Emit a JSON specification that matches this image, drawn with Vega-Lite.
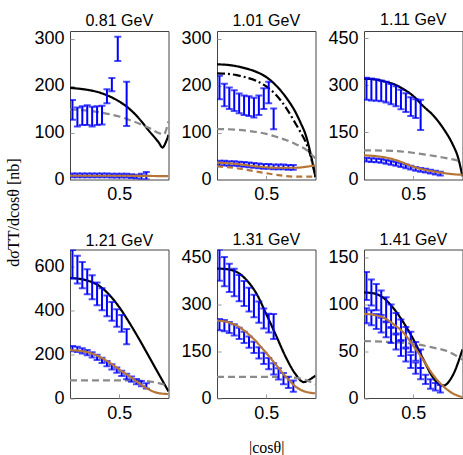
{
"$schema": "https://vega.github.io/schema/vega-lite/v6.json",
"padding": {"left": 5, "top": 11, "right": 5, "bottom": 2},
"columns": 3,
"bounds": "flush",
"spacing": {"row": 69.5, "column": 48},
"resolve": {"scale": {"x": "independent", "y": "independent"}},
"config": {
  "view": {"stroke": "#444", "strokeWidth": 1},
  "axis": {"domain": false, "grid": false, "tickColor": "#999", "tickSize": -4, "labelPadding": 10, "labelFont": "Liberation Sans", "labelFontSize": 18, "labelColor": "#000", "titleFont": "Liberation Serif", "titleFontSize": 16, "titleFontWeight": "normal", "titleColor": "#000"},
  "title": {"font": "Liberation Sans", "fontSize": 16, "fontWeight": "normal", "color": "#000", "offset": 1},
  "tick": {"orient": "horizontal", "color": "#0000ff", "size": 7, "thickness": 2},
  "rule": {"color": "#0000ff", "strokeWidth": 2},
  "line": {"interpolate": "monotone"}
},
"data": {"values": [
{"p":1,"s":"blk","x":0,"y":195},{"p":1,"s":"blk","x":0.1,"y":193},{"p":1,"s":"blk","x":0.2,"y":190},{"p":1,"s":"blk","x":0.3,"y":185},{"p":1,"s":"blk","x":0.4,"y":177},{"p":1,"s":"blk","x":0.5,"y":166},{"p":1,"s":"blk","x":0.6,"y":151},{"p":1,"s":"blk","x":0.7,"y":130},{"p":1,"s":"blk","x":0.8,"y":104},{"p":1,"s":"blk","x":0.9,"y":79},{"p":1,"s":"blk","x":0.94,"y":68},{"p":1,"s":"blk","x":0.97,"y":78},{"p":1,"s":"blk","x":1,"y":95},
{"p":1,"s":"gry","x":0,"y":149},{"p":1,"s":"gry","x":0.1,"y":148},{"p":1,"s":"gry","x":0.2,"y":146},{"p":1,"s":"gry","x":0.3,"y":143},{"p":1,"s":"gry","x":0.4,"y":139},{"p":1,"s":"gry","x":0.5,"y":134},{"p":1,"s":"gry","x":0.6,"y":127},{"p":1,"s":"gry","x":0.7,"y":119},{"p":1,"s":"gry","x":0.8,"y":110},{"p":1,"s":"gry","x":0.9,"y":99},{"p":1,"s":"gry","x":0.95,"y":96},{"p":1,"s":"gry","x":1,"y":124},
{"p":1,"s":"brn","x":0,"y":8},{"p":1,"s":"brn","x":0.5,"y":8},{"p":1,"s":"brn","x":1,"y":7},
{"p":1,"s":"c","x":0.025,"y":148,"lo":127,"hi":169},{"p":1,"s":"c","x":0.075,"y":133,"lo":113,"hi":153},{"p":1,"s":"c","x":0.125,"y":136,"lo":116,"hi":156},{"p":1,"s":"c","x":0.175,"y":137,"lo":116,"hi":158},{"p":1,"s":"c","x":0.225,"y":134,"lo":113,"hi":155},{"p":1,"s":"c","x":0.275,"y":136,"lo":116,"hi":156},{"p":1,"s":"c","x":0.325,"y":137,"lo":117,"hi":157},{"p":1,"s":"c","x":0.375,"y":177,"lo":162,"hi":192},{"p":1,"s":"c","x":0.425,"y":202,"lo":188,"hi":216},{"p":1,"s":"c","x":0.485,"y":278,"lo":252,"hi":304},{"p":1,"s":"c","x":0.575,"y":161,"lo":114,"hi":208},
{"p":1,"s":"n","x":0.025,"y":9,"lo":5,"hi":13},{"p":1,"s":"n","x":0.075,"y":9,"lo":5,"hi":13},{"p":1,"s":"n","x":0.125,"y":9,"lo":5,"hi":13},{"p":1,"s":"n","x":0.175,"y":9,"lo":5,"hi":13},{"p":1,"s":"n","x":0.225,"y":9,"lo":5,"hi":13},{"p":1,"s":"n","x":0.275,"y":9,"lo":5,"hi":13},{"p":1,"s":"n","x":0.325,"y":9,"lo":5,"hi":13},{"p":1,"s":"n","x":0.375,"y":9,"lo":5,"hi":13},{"p":1,"s":"n","x":0.425,"y":8,"lo":4,"hi":12},{"p":1,"s":"n","x":0.475,"y":8,"lo":4,"hi":12},{"p":1,"s":"n","x":0.525,"y":8,"lo":4,"hi":12},{"p":1,"s":"n","x":0.575,"y":8,"lo":4,"hi":12},{"p":1,"s":"n","x":0.625,"y":7,"lo":3,"hi":11},{"p":1,"s":"n","x":0.675,"y":6,"lo":2,"hi":10},{"p":1,"s":"n","x":0.725,"y":6,"lo":0,"hi":12},{"p":1,"s":"n","x":0.775,"y":8,"lo":0,"hi":16},
{"p":2,"s":"blk","x":0,"y":245},{"p":2,"s":"blk","x":0.1,"y":244},{"p":2,"s":"blk","x":0.2,"y":241},{"p":2,"s":"blk","x":0.3,"y":236},{"p":2,"s":"blk","x":0.4,"y":229},{"p":2,"s":"blk","x":0.5,"y":218},{"p":2,"s":"blk","x":0.6,"y":200},{"p":2,"s":"blk","x":0.7,"y":175},{"p":2,"s":"blk","x":0.8,"y":142},{"p":2,"s":"blk","x":0.85,"y":120},{"p":2,"s":"blk","x":0.9,"y":95},{"p":2,"s":"blk","x":0.95,"y":55},{"p":2,"s":"blk","x":0.98,"y":25},{"p":2,"s":"blk","x":1,"y":5},
{"p":2,"s":"blkdd","x":0,"y":226},{"p":2,"s":"blkdd","x":0.1,"y":225},{"p":2,"s":"blkdd","x":0.2,"y":222},{"p":2,"s":"blkdd","x":0.3,"y":217},{"p":2,"s":"blkdd","x":0.4,"y":210},{"p":2,"s":"blkdd","x":0.5,"y":198},{"p":2,"s":"blkdd","x":0.6,"y":180},{"p":2,"s":"blkdd","x":0.7,"y":153},{"p":2,"s":"blkdd","x":0.8,"y":118},{"p":2,"s":"blkdd","x":0.85,"y":100},{"p":2,"s":"blkdd","x":0.9,"y":80},{"p":2,"s":"blkdd","x":0.95,"y":50},{"p":2,"s":"blkdd","x":0.98,"y":25},{"p":2,"s":"blkdd","x":1,"y":5},
{"p":2,"s":"gry","x":0,"y":107},{"p":2,"s":"gry","x":0.1,"y":107},{"p":2,"s":"gry","x":0.2,"y":106},{"p":2,"s":"gry","x":0.3,"y":104},{"p":2,"s":"gry","x":0.4,"y":101},{"p":2,"s":"gry","x":0.5,"y":97},{"p":2,"s":"gry","x":0.6,"y":91},{"p":2,"s":"gry","x":0.7,"y":84},{"p":2,"s":"gry","x":0.8,"y":75},{"p":2,"s":"gry","x":0.9,"y":64},{"p":2,"s":"gry","x":0.95,"y":55},{"p":2,"s":"gry","x":1,"y":45},
{"p":2,"s":"brn","x":0,"y":36},{"p":2,"s":"brn","x":0.2,"y":33},{"p":2,"s":"brn","x":0.4,"y":28},{"p":2,"s":"brn","x":0.6,"y":25},{"p":2,"s":"brn","x":0.8,"y":25},{"p":2,"s":"brn","x":0.9,"y":27},{"p":2,"s":"brn","x":1,"y":30},
{"p":2,"s":"brndd","x":0,"y":28},{"p":2,"s":"brndd","x":0.2,"y":24},{"p":2,"s":"brndd","x":0.4,"y":17},{"p":2,"s":"brndd","x":0.6,"y":10},{"p":2,"s":"brndd","x":0.8,"y":6},{"p":2,"s":"brndd","x":1,"y":6},
{"p":2,"s":"c","x":0.025,"y":196,"lo":171,"hi":221},{"p":2,"s":"c","x":0.075,"y":180,"lo":156,"hi":204},{"p":2,"s":"c","x":0.125,"y":173,"lo":150,"hi":196},{"p":2,"s":"c","x":0.175,"y":168,"lo":146,"hi":190},{"p":2,"s":"c","x":0.225,"y":162,"lo":141,"hi":183},{"p":2,"s":"c","x":0.275,"y":158,"lo":137,"hi":179},{"p":2,"s":"c","x":0.325,"y":156,"lo":135,"hi":177},{"p":2,"s":"c","x":0.375,"y":153,"lo":132,"hi":174},{"p":2,"s":"c","x":0.425,"y":158,"lo":137,"hi":179},{"p":2,"s":"c","x":0.475,"y":172,"lo":150,"hi":194},{"p":2,"s":"c","x":0.525,"y":185,"lo":162,"hi":208},{"p":2,"s":"c","x":0.575,"y":129,"lo":107,"hi":151},
{"p":2,"s":"n","x":0.025,"y":35,"lo":30,"hi":40},{"p":2,"s":"n","x":0.075,"y":35,"lo":30,"hi":40},{"p":2,"s":"n","x":0.125,"y":34,"lo":29,"hi":39},{"p":2,"s":"n","x":0.175,"y":34,"lo":29,"hi":39},{"p":2,"s":"n","x":0.225,"y":33,"lo":28,"hi":38},{"p":2,"s":"n","x":0.275,"y":32,"lo":27,"hi":37},{"p":2,"s":"n","x":0.325,"y":31,"lo":26,"hi":36},{"p":2,"s":"n","x":0.375,"y":30,"lo":25,"hi":35},{"p":2,"s":"n","x":0.425,"y":29,"lo":24,"hi":34},{"p":2,"s":"n","x":0.475,"y":28,"lo":23,"hi":33},{"p":2,"s":"n","x":0.525,"y":28,"lo":23,"hi":33},{"p":2,"s":"n","x":0.575,"y":27,"lo":22,"hi":32},{"p":2,"s":"n","x":0.625,"y":27,"lo":22,"hi":32},{"p":2,"s":"n","x":0.675,"y":27,"lo":22,"hi":32},{"p":2,"s":"n","x":0.725,"y":26,"lo":21,"hi":31},{"p":2,"s":"n","x":0.775,"y":26,"lo":21,"hi":31},
{"p":3,"s":"blk","x":0,"y":321},{"p":3,"s":"blk","x":0.1,"y":319},{"p":3,"s":"blk","x":0.2,"y":313},{"p":3,"s":"blk","x":0.3,"y":304},{"p":3,"s":"blk","x":0.4,"y":288},{"p":3,"s":"blk","x":0.5,"y":266},{"p":3,"s":"blk","x":0.6,"y":234},{"p":3,"s":"blk","x":0.7,"y":205},{"p":3,"s":"blk","x":0.8,"y":165},{"p":3,"s":"blk","x":0.9,"y":112},{"p":3,"s":"blk","x":0.95,"y":75},{"p":3,"s":"blk","x":1,"y":10},
{"p":3,"s":"gry","x":0,"y":93},{"p":3,"s":"gry","x":0.3,"y":91},{"p":3,"s":"gry","x":0.5,"y":85},{"p":3,"s":"gry","x":0.8,"y":70},{"p":3,"s":"gry","x":0.9,"y":64},{"p":3,"s":"gry","x":1,"y":56},
{"p":3,"s":"brn","x":0,"y":77},{"p":3,"s":"brn","x":0.1,"y":75},{"p":3,"s":"brn","x":0.2,"y":71},{"p":3,"s":"brn","x":0.3,"y":64},{"p":3,"s":"brn","x":0.4,"y":53},{"p":3,"s":"brn","x":0.5,"y":41},{"p":3,"s":"brn","x":0.6,"y":32},{"p":3,"s":"brn","x":0.7,"y":26},{"p":3,"s":"brn","x":0.8,"y":21},{"p":3,"s":"brn","x":0.9,"y":17},{"p":3,"s":"brn","x":1,"y":15},
{"p":3,"s":"c","x":0.025,"y":289,"lo":254,"hi":324},{"p":3,"s":"c","x":0.075,"y":287,"lo":252,"hi":322},{"p":3,"s":"c","x":0.125,"y":285,"lo":251,"hi":319},{"p":3,"s":"c","x":0.175,"y":282,"lo":249,"hi":315},{"p":3,"s":"c","x":0.225,"y":278,"lo":245,"hi":311},{"p":3,"s":"c","x":0.275,"y":272,"lo":240,"hi":304},{"p":3,"s":"c","x":0.325,"y":265,"lo":233,"hi":297},{"p":3,"s":"c","x":0.375,"y":255,"lo":224,"hi":286},{"p":3,"s":"c","x":0.425,"y":245,"lo":215,"hi":275},{"p":3,"s":"c","x":0.475,"y":232,"lo":202,"hi":262},{"p":3,"s":"c","x":0.525,"y":226,"lo":196,"hi":256},{"p":3,"s":"c","x":0.575,"y":206,"lo":158,"hi":254},
{"p":3,"s":"n","x":0.025,"y":63,"lo":57,"hi":69},{"p":3,"s":"n","x":0.075,"y":62,"lo":56,"hi":68},{"p":3,"s":"n","x":0.125,"y":61,"lo":55,"hi":67},{"p":3,"s":"n","x":0.175,"y":59,"lo":53,"hi":65},{"p":3,"s":"n","x":0.225,"y":56,"lo":50,"hi":62},{"p":3,"s":"n","x":0.275,"y":53,"lo":47,"hi":59},{"p":3,"s":"n","x":0.325,"y":50,"lo":44,"hi":56},{"p":3,"s":"n","x":0.375,"y":46,"lo":40,"hi":52},{"p":3,"s":"n","x":0.425,"y":42,"lo":36,"hi":48},{"p":3,"s":"n","x":0.475,"y":38,"lo":32,"hi":44},{"p":3,"s":"n","x":0.525,"y":34,"lo":28,"hi":40},{"p":3,"s":"n","x":0.575,"y":31,"lo":25,"hi":37},{"p":3,"s":"n","x":0.625,"y":28,"lo":22,"hi":34},{"p":3,"s":"n","x":0.675,"y":25,"lo":19,"hi":31},{"p":3,"s":"n","x":0.725,"y":22,"lo":16,"hi":28},{"p":3,"s":"n","x":0.775,"y":19,"lo":13,"hi":25},
{"p":4,"s":"blk","x":0,"y":547},{"p":4,"s":"blk","x":0.1,"y":543},{"p":4,"s":"blk","x":0.2,"y":532},{"p":4,"s":"blk","x":0.3,"y":510},{"p":4,"s":"blk","x":0.4,"y":470},{"p":4,"s":"blk","x":0.5,"y":414},{"p":4,"s":"blk","x":0.6,"y":345},{"p":4,"s":"blk","x":0.7,"y":270},{"p":4,"s":"blk","x":0.8,"y":190},{"p":4,"s":"blk","x":0.9,"y":110},{"p":4,"s":"blk","x":1,"y":30},
{"p":4,"s":"gry","x":0,"y":80},{"p":4,"s":"gry","x":0.5,"y":80},{"p":4,"s":"gry","x":0.7,"y":79},{"p":4,"s":"gry","x":0.9,"y":68},{"p":4,"s":"gry","x":1,"y":55},
{"p":4,"s":"brn","x":0,"y":218},{"p":4,"s":"brn","x":0.1,"y":215},{"p":4,"s":"brn","x":0.2,"y":206},{"p":4,"s":"brn","x":0.3,"y":188},{"p":4,"s":"brn","x":0.4,"y":162},{"p":4,"s":"brn","x":0.5,"y":130},{"p":4,"s":"brn","x":0.6,"y":100},{"p":4,"s":"brn","x":0.7,"y":68},{"p":4,"s":"brn","x":0.8,"y":39},{"p":4,"s":"brn","x":0.9,"y":22},{"p":4,"s":"brn","x":1,"y":18},
{"p":4,"s":"c","x":0.025,"y":610,"lo":545,"hi":675},{"p":4,"s":"c","x":0.075,"y":585,"lo":522,"hi":648},{"p":4,"s":"c","x":0.125,"y":560,"lo":500,"hi":620},{"p":4,"s":"c","x":0.175,"y":530,"lo":473,"hi":587},{"p":4,"s":"c","x":0.225,"y":505,"lo":450,"hi":560},{"p":4,"s":"c","x":0.275,"y":475,"lo":423,"hi":527},{"p":4,"s":"c","x":0.325,"y":450,"lo":400,"hi":500},{"p":4,"s":"c","x":0.375,"y":420,"lo":373,"hi":467},{"p":4,"s":"c","x":0.425,"y":395,"lo":352,"hi":438},{"p":4,"s":"c","x":0.475,"y":365,"lo":325,"hi":405},{"p":4,"s":"c","x":0.525,"y":340,"lo":302,"hi":378},{"p":4,"s":"c","x":0.575,"y":280,"lo":245,"hi":314},
{"p":4,"s":"n","x":0.025,"y":225,"lo":213,"hi":237},{"p":4,"s":"n","x":0.075,"y":222,"lo":210,"hi":234},{"p":4,"s":"n","x":0.125,"y":215,"lo":203,"hi":227},{"p":4,"s":"n","x":0.175,"y":207,"lo":195,"hi":219},{"p":4,"s":"n","x":0.225,"y":197,"lo":185,"hi":209},{"p":4,"s":"n","x":0.275,"y":185,"lo":173,"hi":197},{"p":4,"s":"n","x":0.325,"y":172,"lo":160,"hi":184},{"p":4,"s":"n","x":0.375,"y":157,"lo":145,"hi":169},{"p":4,"s":"n","x":0.425,"y":142,"lo":130,"hi":154},{"p":4,"s":"n","x":0.475,"y":127,"lo":115,"hi":139},{"p":4,"s":"n","x":0.525,"y":112,"lo":100,"hi":124},{"p":4,"s":"n","x":0.575,"y":98,"lo":86,"hi":110},{"p":4,"s":"n","x":0.625,"y":86,"lo":74,"hi":98},{"p":4,"s":"n","x":0.675,"y":75,"lo":63,"hi":87},{"p":4,"s":"n","x":0.725,"y":65,"lo":53,"hi":77},{"p":4,"s":"n","x":0.775,"y":55,"lo":43,"hi":67},
{"p":5,"s":"blk","x":0,"y":415},{"p":5,"s":"blk","x":0.1,"y":413},{"p":5,"s":"blk","x":0.2,"y":404},{"p":5,"s":"blk","x":0.3,"y":378},{"p":5,"s":"blk","x":0.4,"y":335},{"p":5,"s":"blk","x":0.5,"y":269},{"p":5,"s":"blk","x":0.6,"y":200},{"p":5,"s":"blk","x":0.7,"y":130},{"p":5,"s":"blk","x":0.8,"y":75},{"p":5,"s":"blk","x":0.88,"y":51},{"p":5,"s":"blk","x":0.94,"y":59},{"p":5,"s":"blk","x":1,"y":72},
{"p":5,"s":"gry","x":0,"y":68},{"p":5,"s":"gry","x":0.4,"y":68},{"p":5,"s":"gry","x":0.7,"y":67},{"p":5,"s":"gry","x":0.85,"y":62},{"p":5,"s":"gry","x":1,"y":44},
{"p":5,"s":"brn","x":0,"y":248},{"p":5,"s":"brn","x":0.1,"y":244},{"p":5,"s":"brn","x":0.2,"y":232},{"p":5,"s":"brn","x":0.3,"y":210},{"p":5,"s":"brn","x":0.4,"y":180},{"p":5,"s":"brn","x":0.5,"y":144},{"p":5,"s":"brn","x":0.6,"y":106},{"p":5,"s":"brn","x":0.7,"y":68},{"p":5,"s":"brn","x":0.8,"y":36},{"p":5,"s":"brn","x":0.9,"y":20},{"p":5,"s":"brn","x":1,"y":15},
{"p":5,"s":"c","x":0.025,"y":426,"lo":376,"hi":476},{"p":5,"s":"c","x":0.075,"y":405,"lo":358,"hi":452},{"p":5,"s":"c","x":0.125,"y":385,"lo":340,"hi":430},{"p":5,"s":"c","x":0.175,"y":370,"lo":326,"hi":414},{"p":5,"s":"c","x":0.225,"y":352,"lo":310,"hi":394},{"p":5,"s":"c","x":0.275,"y":335,"lo":295,"hi":375},{"p":5,"s":"c","x":0.325,"y":315,"lo":277,"hi":353},{"p":5,"s":"c","x":0.375,"y":295,"lo":259,"hi":331},{"p":5,"s":"c","x":0.425,"y":275,"lo":241,"hi":309},{"p":5,"s":"c","x":0.475,"y":255,"lo":223,"hi":287},{"p":5,"s":"c","x":0.525,"y":240,"lo":210,"hi":270},{"p":5,"s":"c","x":0.575,"y":229,"lo":189,"hi":269},
{"p":5,"s":"n","x":0.025,"y":235,"lo":217,"hi":253},{"p":5,"s":"n","x":0.075,"y":232,"lo":214,"hi":250},{"p":5,"s":"n","x":0.125,"y":226,"lo":208,"hi":244},{"p":5,"s":"n","x":0.175,"y":218,"lo":200,"hi":236},{"p":5,"s":"n","x":0.225,"y":207,"lo":189,"hi":225},{"p":5,"s":"n","x":0.275,"y":194,"lo":176,"hi":212},{"p":5,"s":"n","x":0.325,"y":179,"lo":161,"hi":197},{"p":5,"s":"n","x":0.375,"y":162,"lo":144,"hi":180},{"p":5,"s":"n","x":0.425,"y":145,"lo":127,"hi":163},{"p":5,"s":"n","x":0.475,"y":127,"lo":109,"hi":145},{"p":5,"s":"n","x":0.525,"y":110,"lo":92,"hi":128},{"p":5,"s":"n","x":0.575,"y":93,"lo":75,"hi":111},{"p":5,"s":"n","x":0.625,"y":77,"lo":59,"hi":95},{"p":5,"s":"n","x":0.675,"y":62,"lo":44,"hi":80},{"p":5,"s":"n","x":0.725,"y":50,"lo":32,"hi":68},{"p":5,"s":"n","x":0.775,"y":38,"lo":20,"hi":56},
{"p":6,"s":"blk","x":0,"y":113},{"p":6,"s":"blk","x":0.1,"y":112},{"p":6,"s":"blk","x":0.2,"y":107},{"p":6,"s":"blk","x":0.3,"y":96},{"p":6,"s":"blk","x":0.4,"y":81},{"p":6,"s":"blk","x":0.5,"y":63},{"p":6,"s":"blk","x":0.6,"y":42},{"p":6,"s":"blk","x":0.7,"y":22},{"p":6,"s":"blk","x":0.8,"y":13},{"p":6,"s":"blk","x":0.9,"y":24},{"p":6,"s":"blk","x":1,"y":52},
{"p":6,"s":"gry","x":0,"y":61},{"p":6,"s":"gry","x":0.5,"y":58},{"p":6,"s":"gry","x":0.7,"y":54},{"p":6,"s":"gry","x":0.85,"y":50},{"p":6,"s":"gry","x":1,"y":41},
{"p":6,"s":"brn","x":0,"y":90},{"p":6,"s":"brn","x":0.1,"y":89},{"p":6,"s":"brn","x":0.2,"y":86},{"p":6,"s":"brn","x":0.3,"y":79},{"p":6,"s":"brn","x":0.4,"y":70},{"p":6,"s":"brn","x":0.5,"y":56},{"p":6,"s":"brn","x":0.6,"y":41},{"p":6,"s":"brn","x":0.7,"y":25},{"p":6,"s":"brn","x":0.8,"y":13},{"p":6,"s":"brn","x":0.9,"y":5},{"p":6,"s":"brn","x":1,"y":1},
{"p":6,"s":"c","x":0.025,"y":120,"lo":105,"hi":135},{"p":6,"s":"c","x":0.075,"y":113,"lo":99,"hi":127},{"p":6,"s":"c","x":0.125,"y":108,"lo":94,"hi":122},{"p":6,"s":"c","x":0.175,"y":102,"lo":89,"hi":115},{"p":6,"s":"c","x":0.225,"y":95,"lo":82,"hi":108},{"p":6,"s":"c","x":0.275,"y":88,"lo":76,"hi":100},{"p":6,"s":"c","x":0.325,"y":80,"lo":69,"hi":91},{"p":6,"s":"c","x":0.375,"y":73,"lo":62,"hi":84},{"p":6,"s":"c","x":0.425,"y":65,"lo":54,"hi":76},{"p":6,"s":"c","x":0.475,"y":60,"lo":49,"hi":71},{"p":6,"s":"c","x":0.525,"y":50,"lo":40,"hi":60},{"p":6,"s":"c","x":0.575,"y":42,"lo":32,"hi":52},
{"p":6,"s":"n","x":0.025,"y":88,"lo":80,"hi":96},{"p":6,"s":"n","x":0.075,"y":86,"lo":78,"hi":94},{"p":6,"s":"n","x":0.125,"y":82,"lo":74,"hi":90},{"p":6,"s":"n","x":0.175,"y":78,"lo":70,"hi":86},{"p":6,"s":"n","x":0.225,"y":73,"lo":65,"hi":81},{"p":6,"s":"n","x":0.275,"y":67,"lo":59,"hi":75},{"p":6,"s":"n","x":0.325,"y":60,"lo":52,"hi":68},{"p":6,"s":"n","x":0.375,"y":53,"lo":45,"hi":61},{"p":6,"s":"n","x":0.425,"y":46,"lo":39,"hi":53},{"p":6,"s":"n","x":0.475,"y":39,"lo":32,"hi":46},{"p":6,"s":"n","x":0.525,"y":32,"lo":26,"hi":38},{"p":6,"s":"n","x":0.575,"y":26,"lo":20,"hi":32},{"p":6,"s":"n","x":0.625,"y":20,"lo":15,"hi":25},{"p":6,"s":"n","x":0.675,"y":15,"lo":10,"hi":20},{"p":6,"s":"n","x":0.725,"y":12,"lo":8,"hi":16},{"p":6,"s":"n","x":0.775,"y":10,"lo":6,"hi":14}
]},
"concat": [
{"width": 98.5, "height": 148.5, "title": "0.81 GeV",
 "transform": [{"filter": "datum.p == 1"}],
 "layer": [
  {"transform": [{"filter": "datum.s == 'blk' || datum.s == 'blkdd' || datum.s == 'gry'"}], "mark": {"type": "line", "clip": true},
   "encoding": {"x": {"field": "x", "type": "quantitative", "scale": {"domain": [0, 1], "nice": false}, "axis": {"values": [0.5]}, "title": null},
    "y": {"field": "y", "type": "quantitative", "scale": {"domain": [0, 316], "nice": false}, "axis": {"values": [0, 100, 200, 300], "titleY": 181, "titlePadding": 12}, "title": "dσTT/dcosθ [nb]"},
    "color": {"field": "s", "type": "nominal", "scale": {"domain": ["blk", "blkdd", "gry", "brn", "brndd"], "range": ["#000000", "#000000", "#8a8a8a", "#b5763a", "#b5763a"]}, "legend": null},
    "strokeDash": {"field": "s", "type": "nominal", "scale": {"domain": ["blk", "blkdd", "gry", "brn", "brndd"], "range": [[1, 0], [8, 3, 2, 3], [7, 4], [1, 0], [6, 4]]}, "legend": null},
    "strokeWidth": {"field": "s", "type": "ordinal", "scale": {"domain": ["blk", "blkdd", "gry", "brn", "brndd"], "range": [2.2, 2.2, 2.2, 3, 3]}, "legend": null}}},
  {"transform": [{"filter": "isValid(datum.lo)"}], "mark": {"type": "rule", "clip": true},
   "encoding": {"x": {"field": "x", "type": "quantitative", "title": null}, "y": {"field": "lo", "type": "quantitative", "title": "dσTT/dcosθ [nb]"}, "y2": {"field": "hi"}}},
  {"transform": [{"filter": "isValid(datum.lo)"}], "mark": {"type": "tick", "clip": true},
   "encoding": {"x": {"field": "x", "type": "quantitative", "title": null}, "y": {"field": "lo", "type": "quantitative", "title": "dσTT/dcosθ [nb]"}}},
  {"transform": [{"filter": "isValid(datum.lo)"}], "mark": {"type": "tick", "clip": true},
   "encoding": {"x": {"field": "x", "type": "quantitative", "title": null}, "y": {"field": "hi", "type": "quantitative", "title": "dσTT/dcosθ [nb]"}}},
  {"transform": [{"filter": "datum.s == 'brn' || datum.s == 'brndd'"}], "mark": {"type": "line", "clip": true},
   "encoding": {"x": {"field": "x", "type": "quantitative", "title": null}, "y": {"field": "y", "type": "quantitative", "title": "dσTT/dcosθ [nb]"},
    "color": {"field": "s", "type": "nominal", "legend": null}, "strokeDash": {"field": "s", "type": "nominal", "legend": null}, "strokeWidth": {"field": "s", "type": "ordinal", "legend": null}}}
 ]},
{"width": 98.5, "height": 148.5, "title": "1.01 GeV",
 "transform": [{"filter": "datum.p == 2"}],
 "layer": [
  {"transform": [{"filter": "datum.s == 'blk' || datum.s == 'blkdd' || datum.s == 'gry'"}], "mark": {"type": "line", "clip": true},
   "encoding": {"x": {"field": "x", "type": "quantitative", "scale": {"domain": [0, 1], "nice": false}, "axis": {"values": [0.5]}, "title": null},
    "y": {"field": "y", "type": "quantitative", "scale": {"domain": [0, 316], "nice": false}, "axis": {"values": [0, 100, 200, 300]}, "title": null},
    "color": {"field": "s", "type": "nominal", "legend": null}, "strokeDash": {"field": "s", "type": "nominal", "legend": null}, "strokeWidth": {"field": "s", "type": "ordinal", "legend": null}}},
  {"transform": [{"filter": "isValid(datum.lo)"}], "mark": {"type": "rule", "clip": true},
   "encoding": {"x": {"field": "x", "type": "quantitative", "title": null}, "y": {"field": "lo", "type": "quantitative", "title": null}, "y2": {"field": "hi"}}},
  {"transform": [{"filter": "isValid(datum.lo)"}], "mark": {"type": "tick", "clip": true},
   "encoding": {"x": {"field": "x", "type": "quantitative", "title": null}, "y": {"field": "lo", "type": "quantitative", "title": null}}},
  {"transform": [{"filter": "isValid(datum.lo)"}], "mark": {"type": "tick", "clip": true},
   "encoding": {"x": {"field": "x", "type": "quantitative", "title": null}, "y": {"field": "hi", "type": "quantitative", "title": null}}},
  {"transform": [{"filter": "datum.s == 'brn' || datum.s == 'brndd'"}], "mark": {"type": "line", "clip": true},
   "encoding": {"x": {"field": "x", "type": "quantitative", "title": null}, "y": {"field": "y", "type": "quantitative", "title": null},
    "color": {"field": "s", "type": "nominal", "legend": null}, "strokeDash": {"field": "s", "type": "nominal", "legend": null}, "strokeWidth": {"field": "s", "type": "ordinal", "legend": null}}}
 ]},
{"width": 98.5, "height": 148.5, "title": "1.11 GeV",
 "transform": [{"filter": "datum.p == 3"}],
 "layer": [
  {"transform": [{"filter": "datum.s == 'blk' || datum.s == 'blkdd' || datum.s == 'gry'"}], "mark": {"type": "line", "clip": true},
   "encoding": {"x": {"field": "x", "type": "quantitative", "scale": {"domain": [0, 1], "nice": false}, "axis": {"values": [0.5]}, "title": null},
    "y": {"field": "y", "type": "quantitative", "scale": {"domain": [0, 473], "nice": false}, "axis": {"values": [0, 150, 300, 450]}, "title": null},
    "color": {"field": "s", "type": "nominal", "legend": null}, "strokeDash": {"field": "s", "type": "nominal", "legend": null}, "strokeWidth": {"field": "s", "type": "ordinal", "legend": null}}},
  {"transform": [{"filter": "isValid(datum.lo)"}], "mark": {"type": "rule", "clip": true},
   "encoding": {"x": {"field": "x", "type": "quantitative", "title": null}, "y": {"field": "lo", "type": "quantitative", "title": null}, "y2": {"field": "hi"}}},
  {"transform": [{"filter": "isValid(datum.lo)"}], "mark": {"type": "tick", "clip": true},
   "encoding": {"x": {"field": "x", "type": "quantitative", "title": null}, "y": {"field": "lo", "type": "quantitative", "title": null}}},
  {"transform": [{"filter": "isValid(datum.lo)"}], "mark": {"type": "tick", "clip": true},
   "encoding": {"x": {"field": "x", "type": "quantitative", "title": null}, "y": {"field": "hi", "type": "quantitative", "title": null}}},
  {"transform": [{"filter": "datum.s == 'brn' || datum.s == 'brndd'"}], "mark": {"type": "line", "clip": true},
   "encoding": {"x": {"field": "x", "type": "quantitative", "title": null}, "y": {"field": "y", "type": "quantitative", "title": null},
    "color": {"field": "s", "type": "nominal", "legend": null}, "strokeDash": {"field": "s", "type": "nominal", "legend": null}, "strokeWidth": {"field": "s", "type": "ordinal", "legend": null}}}
 ]},
{"width": 98.5, "height": 148.5, "title": "1.21 GeV",
 "transform": [{"filter": "datum.p == 4"}],
 "layer": [
  {"transform": [{"filter": "datum.s == 'blk' || datum.s == 'blkdd' || datum.s == 'gry'"}], "mark": {"type": "line", "clip": true},
   "encoding": {"x": {"field": "x", "type": "quantitative", "scale": {"domain": [0, 1], "nice": false}, "axis": {"values": [0.5]}, "title": null},
    "y": {"field": "y", "type": "quantitative", "scale": {"domain": [0, 677], "nice": false}, "axis": {"values": [0, 200, 400, 600]}, "title": null},
    "color": {"field": "s", "type": "nominal", "legend": null}, "strokeDash": {"field": "s", "type": "nominal", "legend": null}, "strokeWidth": {"field": "s", "type": "ordinal", "legend": null}}},
  {"transform": [{"filter": "isValid(datum.lo)"}], "mark": {"type": "rule", "clip": true},
   "encoding": {"x": {"field": "x", "type": "quantitative", "title": null}, "y": {"field": "lo", "type": "quantitative", "title": null}, "y2": {"field": "hi"}}},
  {"transform": [{"filter": "isValid(datum.lo)"}], "mark": {"type": "tick", "clip": true},
   "encoding": {"x": {"field": "x", "type": "quantitative", "title": null}, "y": {"field": "lo", "type": "quantitative", "title": null}}},
  {"transform": [{"filter": "isValid(datum.lo)"}], "mark": {"type": "tick", "clip": true},
   "encoding": {"x": {"field": "x", "type": "quantitative", "title": null}, "y": {"field": "hi", "type": "quantitative", "title": null}}},
  {"transform": [{"filter": "datum.s == 'brn' || datum.s == 'brndd'"}], "mark": {"type": "line", "clip": true},
   "encoding": {"x": {"field": "x", "type": "quantitative", "title": null}, "y": {"field": "y", "type": "quantitative", "title": null},
    "color": {"field": "s", "type": "nominal", "legend": null}, "strokeDash": {"field": "s", "type": "nominal", "legend": null}, "strokeWidth": {"field": "s", "type": "ordinal", "legend": null}}}
 ]},
{"width": 98.5, "height": 148.5, "title": "1.31 GeV",
 "transform": [{"filter": "datum.p == 5"}],
 "layer": [
  {"transform": [{"filter": "datum.s == 'blk' || datum.s == 'blkdd' || datum.s == 'gry'"}], "mark": {"type": "line", "clip": true},
   "encoding": {"x": {"field": "x", "type": "quantitative", "scale": {"domain": [0, 1], "nice": false}, "axis": {"values": [0.5], "titlePadding": 17}, "title": "|cosθ|"},
    "y": {"field": "y", "type": "quantitative", "scale": {"domain": [0, 476], "nice": false}, "axis": {"values": [0, 150, 300, 450]}, "title": null},
    "color": {"field": "s", "type": "nominal", "legend": null}, "strokeDash": {"field": "s", "type": "nominal", "legend": null}, "strokeWidth": {"field": "s", "type": "ordinal", "legend": null}}},
  {"transform": [{"filter": "isValid(datum.lo)"}], "mark": {"type": "rule", "clip": true},
   "encoding": {"x": {"field": "x", "type": "quantitative", "title": "|cosθ|"}, "y": {"field": "lo", "type": "quantitative", "title": null}, "y2": {"field": "hi"}}},
  {"transform": [{"filter": "isValid(datum.lo)"}], "mark": {"type": "tick", "clip": true},
   "encoding": {"x": {"field": "x", "type": "quantitative", "title": "|cosθ|"}, "y": {"field": "lo", "type": "quantitative", "title": null}}},
  {"transform": [{"filter": "isValid(datum.lo)"}], "mark": {"type": "tick", "clip": true},
   "encoding": {"x": {"field": "x", "type": "quantitative", "title": "|cosθ|"}, "y": {"field": "hi", "type": "quantitative", "title": null}}},
  {"transform": [{"filter": "datum.s == 'brn' || datum.s == 'brndd'"}], "mark": {"type": "line", "clip": true},
   "encoding": {"x": {"field": "x", "type": "quantitative", "title": "|cosθ|"}, "y": {"field": "y", "type": "quantitative", "title": null},
    "color": {"field": "s", "type": "nominal", "legend": null}, "strokeDash": {"field": "s", "type": "nominal", "legend": null}, "strokeWidth": {"field": "s", "type": "ordinal", "legend": null}}}
 ]},
{"width": 98.5, "height": 148.5, "title": "1.41 GeV",
 "transform": [{"filter": "datum.p == 6"}],
 "layer": [
  {"transform": [{"filter": "datum.s == 'blk' || datum.s == 'blkdd' || datum.s == 'gry'"}], "mark": {"type": "line", "clip": true},
   "encoding": {"x": {"field": "x", "type": "quantitative", "scale": {"domain": [0, 1], "nice": false}, "axis": {"values": [0.5]}, "title": null},
    "y": {"field": "y", "type": "quantitative", "scale": {"domain": [0, 159], "nice": false}, "axis": {"values": [0, 50, 100, 150]}, "title": null},
    "color": {"field": "s", "type": "nominal", "legend": null}, "strokeDash": {"field": "s", "type": "nominal", "legend": null}, "strokeWidth": {"field": "s", "type": "ordinal", "legend": null}}},
  {"transform": [{"filter": "isValid(datum.lo)"}], "mark": {"type": "rule", "clip": true},
   "encoding": {"x": {"field": "x", "type": "quantitative", "title": null}, "y": {"field": "lo", "type": "quantitative", "title": null}, "y2": {"field": "hi"}}},
  {"transform": [{"filter": "isValid(datum.lo)"}], "mark": {"type": "tick", "clip": true},
   "encoding": {"x": {"field": "x", "type": "quantitative", "title": null}, "y": {"field": "lo", "type": "quantitative", "title": null}}},
  {"transform": [{"filter": "isValid(datum.lo)"}], "mark": {"type": "tick", "clip": true},
   "encoding": {"x": {"field": "x", "type": "quantitative", "title": null}, "y": {"field": "hi", "type": "quantitative", "title": null}}},
  {"transform": [{"filter": "datum.s == 'brn' || datum.s == 'brndd'"}], "mark": {"type": "line", "clip": true},
   "encoding": {"x": {"field": "x", "type": "quantitative", "title": null}, "y": {"field": "y", "type": "quantitative", "title": null},
    "color": {"field": "s", "type": "nominal", "legend": null}, "strokeDash": {"field": "s", "type": "nominal", "legend": null}, "strokeWidth": {"field": "s", "type": "ordinal", "legend": null}}}
 ]}
]
}
